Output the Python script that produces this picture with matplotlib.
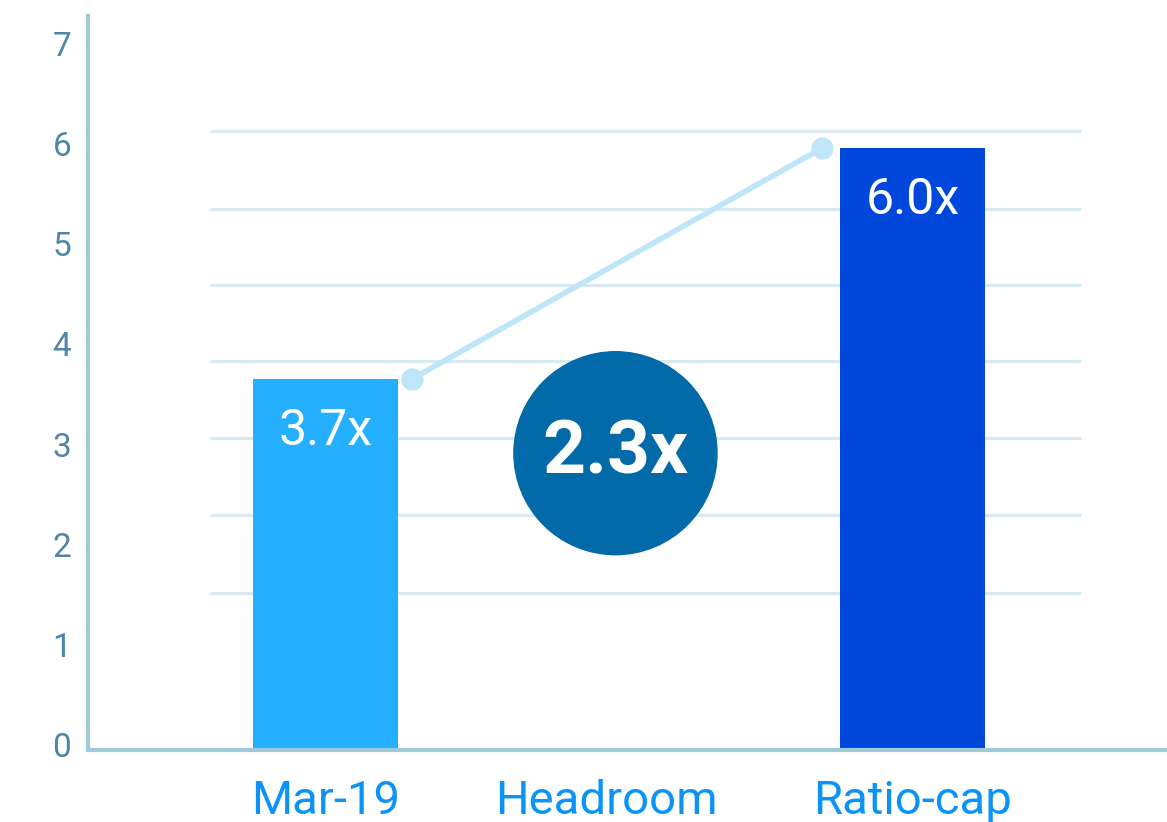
import matplotlib.pyplot as plt
from matplotlib.patches import Ellipse
from matplotlib.transforms import ScaledTranslation

# chart data
categories = ['Mar-19', 'Headroom', 'Ratio-cap']
bar_pos = [0, 2]
bar_values = [3.7, 6.0]
bar_labels = ['3.7x', '6.0x']
headroom = 2.3
yticks = [0, 1, 2, 3, 4, 5, 6, 7]

plt.rcParams['font.family'] = ['Roboto', 'DejaVu Sans']

fig = plt.figure(figsize=(11.67, 8.22), dpi=100)
ax = fig.add_axes([0.0754, 0.0876, 0.9246, 0.8929])

# decorative background lines
grid_y = [1.57, 2.34, 3.11, 3.88, 4.64, 5.40, 6.17]
ax.hlines(grid_y, -0.394, 2.574, color='#d8e9f1', lw=2.3, zorder=0)

# bars
ax.bar(bar_pos, bar_values, width=0.494, color=['#25afff', '#0047db'], zorder=2)
for x, v, t in zip(bar_pos, bar_values, bar_labels):
    ax.annotate(t, (x, v), xytext=(0, -52), textcoords='offset pixels',
                ha='center', va='center', color='white', fontsize=36, zorder=3)

# connector between the two bar tops
ax.plot([0.295, 1.69], bar_values, color='#bfe6f8', lw=4, marker='o',
        markersize=15, zorder=1)

# headroom bubble
ax.add_patch(Ellipse((0.988, 2.96), 0.692, 2.024, color='#026aa8', zorder=4))
ax.text(0.988, 2.96, f'{headroom}x', ha='center', va='center', color='white',
        fontsize=54, fontweight='bold', zorder=5)

ax.set_xlim(-0.809, 2.867)
ax.set_ylim(0, 7.32)

ax.set_xticks(range(len(categories)))
ax.set_xticklabels(categories, fontsize=34, color='#0b93f8')
ax.set_yticks(yticks)
ax.set_yticklabels([str(t) for t in yticks], fontsize=24, color='#4d86a6')
ax.tick_params(axis='both', length=0)
ax.tick_params(axis='x', pad=21)
ax.tick_params(axis='y', pad=12)

# nudge the middle category label and lift the y labels a little
hl = ax.get_xticklabels()[1]
hl.set_transform(hl.get_transform() + ScaledTranslation(-0.13, 0, fig.dpi_scale_trans))
for lbl in ax.get_yticklabels():
    lbl.set_transform(lbl.get_transform() + ScaledTranslation(0, 0.05, fig.dpi_scale_trans))

for s in ['top', 'right']:
    ax.spines[s].set_visible(False)
for s in ['left', 'bottom']:
    ax.spines[s].set_color('#9fcad9')
    ax.spines[s].set_linewidth(3)

fig.savefig('out.png', dpi=100)
